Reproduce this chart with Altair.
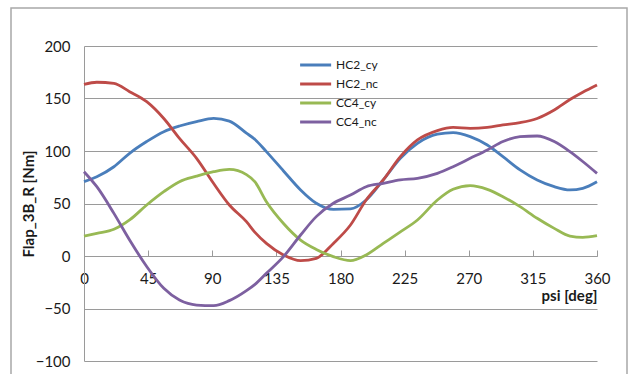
import altair as alt
import pandas as pd

# ---- data ----
psi = [0, 9, 21, 32, 44, 56, 67, 79, 91, 102, 114, 120, 128, 140, 152, 163, 175,
       187, 198, 210, 222, 234, 248, 259, 271, 283, 294, 306, 318, 330, 341, 350, 360]
hc2_cy = [70.8, 75.5, 85, 97.8, 109, 118.4, 123.8, 128, 131, 128.5, 117, 111, 99.4, 81, 62.9, 50.2, 44.4,
          44.8, 53.3, 72.4, 93, 107.3, 116, 117.5, 113.7, 105.7, 94.6, 82, 72.4, 66, 62.9, 64.5, 70.8]
hc2_nc = [163.5, 165.5, 164.4, 156.5, 147, 131, 112, 93, 69, 48.6, 32.7, 22.5, 12, 1, -4.4, -2.2, 12,
          29.5, 53.3, 72.4, 94.6, 110.5, 119.4, 122.5, 121.6, 122.5, 124.8, 127, 131, 139, 149, 156, 162.9]
cc4_cy = [19, 21.6, 25.4, 34.3, 48.6, 61.3, 70.8, 76, 80.3, 82.5, 77.5, 70.5, 51.7, 31, 15.2, 6.3, -0.6,
          -4.4, 1, 12, 23, 34.3, 53.3, 63.5, 67, 63.5, 56.5, 47, 35.9, 26.3, 19, 17.8, 19.4]
cc4_nc = [80.3, 66, 40.6, 15.2, -10, -30.8, -41.9, -46.7, -47.3, -42.5, -33, -27, -16.5, -0.6, 20, 37.5, 50.2,
          58, 66, 69.2, 72.4, 74, 78.7, 85, 93, 101, 109, 113.7, 114.3, 109, 99.4, 90, 78.7]

series = ["HC2_cy", "HC2_nc", "CC4_cy", "CC4_nc"]
colors = ["#4A7EBB", "#BE4B48", "#98B954", "#7D60A0"]
x_ticks = [0, 45, 90, 135, 180, 225, 270, 315, 360]
y_ticks = [-100, -50, 0, 50, 100, 150, 200]

rows = []
for name, vals in zip(series, [hc2_cy, hc2_nc, cc4_cy, cc4_nc]):
    for p, v in zip(psi, vals):
        rows.append({"psi": p, "value": v, "series": name})
df = pd.DataFrame(rows)

FONT = "Lato"
GRID = "#9a9a9a"
TXT = "#1a1a1a"

xscale = alt.Scale(domain=[0, 360], nice=False, zero=False)
yscale = alt.Scale(domain=[-100, 200], nice=False, zero=False)

lines = alt.Chart(df).mark_line(strokeWidth=2.8, interpolate="monotone").encode(
    x=alt.X("psi:Q", scale=xscale, axis=alt.Axis(
        orient="bottom", values=x_ticks, offset=-105, ticks=False, domain=False, grid=False,
        labelPadding=15, labelFont=FONT, labelFontSize=15, labelColor=TXT, labelFlush=False,
        title="psi [deg]", titleFont=FONT, titleFontSize=15, titleFontWeight="bold",
        titleColor=TXT, titleX=513, titleY=39, titleAlign="right", titleBaseline="middle")),
    y=alt.Y("value:Q", scale=yscale, axis=alt.Axis(
        values=y_ticks, ticks=False, domain=True, domainColor=GRID, grid=True, gridColor=GRID,
        labelPadding=14, labelFont=FONT, labelFontSize=15, labelColor=TXT,
        title="Flap_3B_R [Nm]", titleFont=FONT, titleFontSize=15, titleFontWeight="bold",
        titleColor=TXT, titleAngle=-90, titleX=-56, titleY=157.5, titleAlign="center",
        titleBaseline="middle")),
    color=alt.Color("series:N", scale=alt.Scale(domain=series, range=colors), legend=alt.Legend(
        title=None, orient="none", legendX=221, legendY=12, padding=0,
        symbolType="M-2.3,0H3.7", symbolSize=107, symbolStrokeWidth=3, labelOffset=17,
        rowPadding=6, labelFont=FONT, labelFontSize=12, labelColor=TXT)),
)

ticks_layer = alt.Chart(df).mark_line(opacity=0).encode(
    x=alt.X("psi:Q", scale=xscale, axis=alt.Axis(
        orient="top", values=x_ticks, offset=-210, labels=False, ticks=True, tickSize=6,
        tickColor=GRID, domain=True, domainColor=GRID, grid=False, title=None)),
    y=alt.Y("value:Q", scale=yscale, axis=None),
    detail="series:N",
)

frame = alt.Chart(pd.DataFrame({"k": [0]})).mark_rect(
    fill="transparent", stroke="#a8a8a8", strokeWidth=1.5
).encode(x=alt.value(-73), x2=alt.value(543), y=alt.value(-38), y2=alt.value(340))

chart = alt.layer(frame, ticks_layer, lines).resolve_axis(x="independent", y="independent").properties(
    width=513, height=315,
    autosize=alt.AutoSizeParams(type="none"),
    padding={"left": 84, "top": 46, "right": 35, "bottom": 13},
    background="white",
).configure_view(strokeWidth=0)

chart.save("out.html", embed_options={"renderer": "svg", "actions": False})
